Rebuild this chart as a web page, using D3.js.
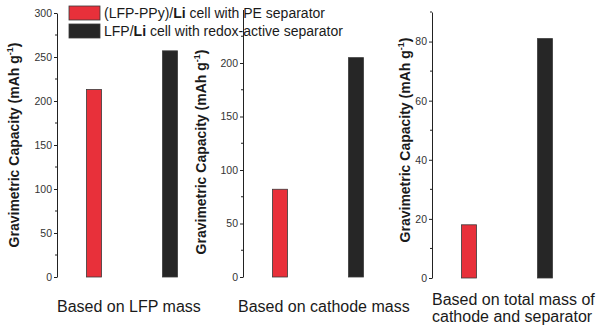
<!DOCTYPE html>
<html>
<head>
<meta charset="utf-8">
<script src="https://cdn.jsdelivr.net/npm/d3@7"></script>
<style>
  html, body { margin: 0; padding: 0; background: #fff; }
  svg { display: block; font-family: Arial, "Liberation Sans", sans-serif; }
</style>
</head>
<body>
<svg id="chart" width="600" height="327"></svg>
<script>
// Cell configurations (legend entries)
const seriesNames = ["(LFP-PPy)/Li cell with PE separator", "LFP/Li cell with redox-active separator"];
const seriesColors = ["#e8303a", "#262626"];

// Mass basis for each panel
const panelLabels = [
  ["Based on LFP mass"],
  ["Based on cathode mass"],
  ["Based on total mass of", "cathode and separator"]
];

// Gravimetric capacity (mAh g-1) per panel
const ppyValues = [213, 82, 18];
const redoxValues = [257, 205, 81];

// Axis ranges and tick steps per panel
const axisMax = [300, 250, 90];
const majorTicks = [
  [0, 50, 100, 150, 200, 250, 300],
  [0, 50, 100, 150, 200],
  [0, 20, 40, 60, 80]
];
const minorTicks = [
  [25, 75, 125, 175, 225, 275],
  [25, 75, 125, 175, 225],
  [10, 30, 50, 70, 90]
];

const yTitle = "Gravimetric Capacity (mAh g";

const svg = d3.select("#chart");

// layout of each panel: axis position, label placement, title center
const panels = [
  { ax: 57,  top: 13,  bottom: 277, titleX: 14,  titleY: 145, labelX: 57,  labelSize: 16, labelY: [312] },
  { ax: 243, top: 9.5, bottom: 277, titleX: 201, titleY: 152, labelX: 238, labelSize: 16, labelY: [312] },
  { ax: 432, top: 12,  bottom: 278, titleX: 405, titleY: 140, labelX: 432, labelSize: 16, labelY: [305, 322] }
];

panels.forEach((p, i) => {
  const g = svg.append("g");
  const y = d3.scaleLinear().domain([0, axisMax[i]]).range([p.bottom, p.top]);
  const x = d3.scalePoint().domain(seriesNames).range([p.ax + 37, p.ax + 113]);
  const barW = 15;
  const vals = [ppyValues[i], redoxValues[i]];

  // bars
  g.selectAll("rect.bar")
    .data(seriesNames.map((s, k) => ({ s, v: vals[k], c: seriesColors[k] })))
    .enter().append("rect")
    .attr("class", "bar")
    .attr("x", d => x(d.s) - barW / 2)
    .attr("width", barW)
    .attr("y", d => y(d.v))
    .attr("height", d => y(0) - y(d.v))
    .attr("fill", d => d.c)
    .attr("stroke", "#3a3a3a")
    .attr("stroke-width", 0.8);

  // y axis with major ticks
  const axis = d3.axisLeft(y).tickValues(majorTicks[i]).tickSize(3).tickPadding(2).tickSizeOuter(0);
  const ag = g.append("g").attr("transform", `translate(${p.ax},0)`).call(axis);
  ag.select(".domain").attr("stroke", "#222").attr("stroke-width", 1);
  ag.selectAll(".tick line").attr("stroke", "#222");
  ag.selectAll(".tick text").attr("font-size", 10.5).attr("fill", "#333");

  // minor ticks
  g.selectAll("line.minor")
    .data(minorTicks[i])
    .enter().append("line")
    .attr("class", "minor")
    .attr("x1", p.ax).attr("x2", p.ax - 2)
    .attr("y1", d => y(d)).attr("y2", d => y(d))
    .attr("stroke", "#222");

  // y axis title
  const t = g.append("text")
    .attr("transform", `translate(${p.titleX + 5},${p.titleY}) rotate(-90)`)
    .attr("text-anchor", "middle")
    .attr("font-size", 14)
    .attr("font-weight", "bold")
    .attr("fill", "#1a1a1a");
  t.append("tspan").text(yTitle);
  t.append("tspan").attr("font-size", 9).attr("dy", -6).text("-1");
  t.append("tspan").attr("dy", 6).text(")");

  // panel label
  const lt = g.append("text")
    .attr("font-size", p.labelSize)
    .attr("fill", "#1a1a1a");
  panelLabels[i].forEach((ln, k) => {
    lt.append("tspan")
      .attr("x", p.labelX)
      .attr("y", p.labelY[k])
      .text(ln);
  });
});

// legend
const legend = svg.append("g");
seriesNames.forEach((s, k) => {
  const ly = 6 + k * 18;
  legend.append("rect")
    .attr("x", 69).attr("y", ly)
    .attr("width", 31).attr("height", 14)
    .attr("fill", seriesColors[k])
    .attr("stroke", "#3a3a3a").attr("stroke-width", 0.8);
  const txt = legend.append("text")
    .attr("x", 104).attr("y", ly + 12)
    .attr("font-size", 14)
    .attr("fill", "#1a1a1a");
  const parts = s.split("Li");
  txt.append("tspan").text(parts[0]);
  txt.append("tspan").attr("font-weight", "bold").text("Li");
  txt.append("tspan").text(parts.slice(1).join("Li"));
});
</script>
</body>
</html>
